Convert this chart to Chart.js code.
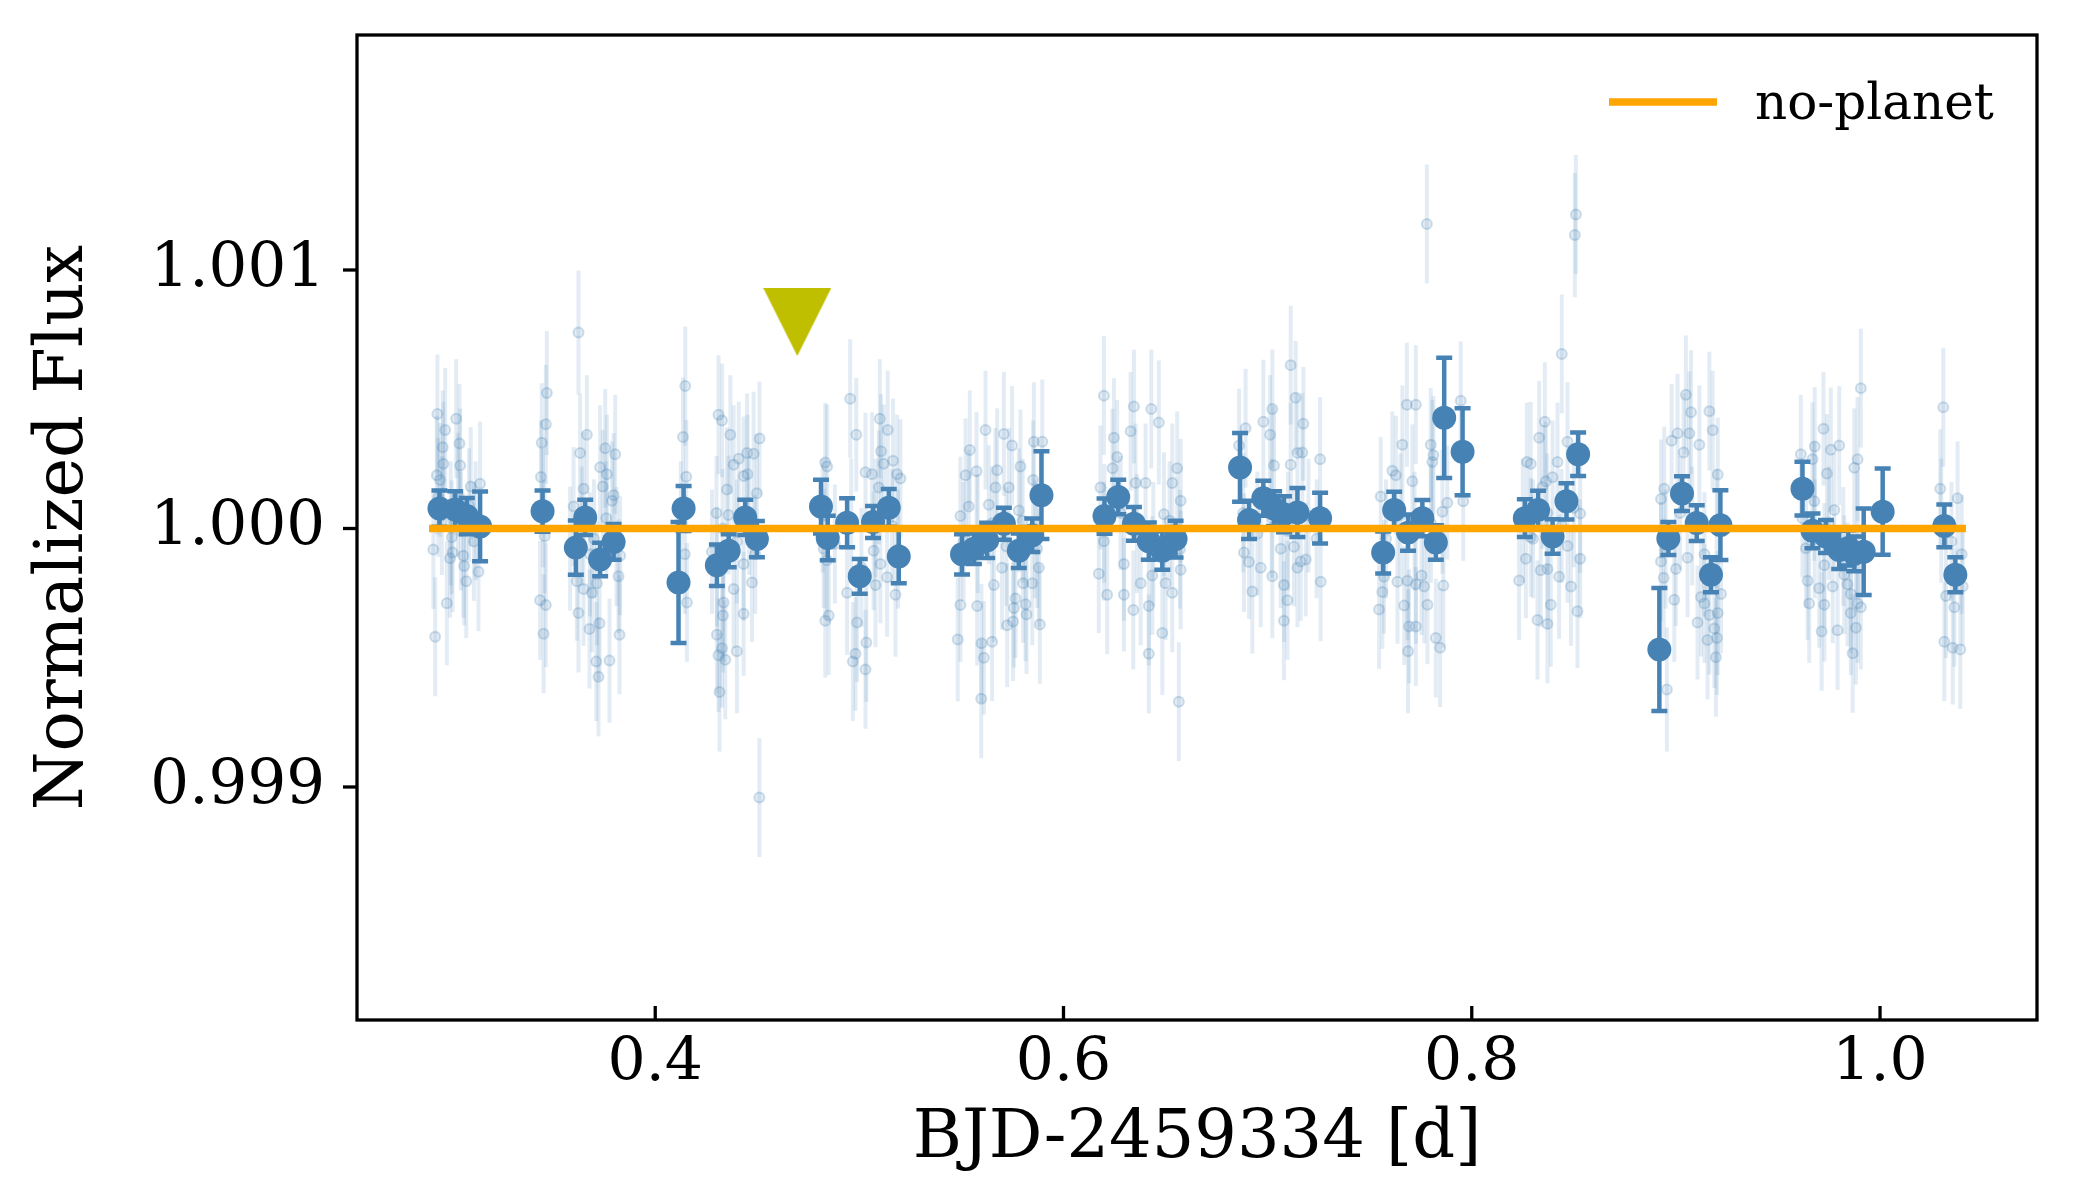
<!DOCTYPE html>
<html><head><meta charset="utf-8">
<script src="https://cdn.jsdelivr.net/npm/chart.js@4.4.1/dist/chart.umd.min.js"></script>
<style>html,body{margin:0;padding:0;background:#fff;}#wrap{width:2100px;height:1200px;}</style>
</head><body><div id="wrap"><canvas id="c" width="2100" height="1200"></canvas></div>
<script>
// ---- axes ----
const xTicks = [0.4, 0.6, 0.8, 1.0];
const xTickLabels = ['0.4', '0.6', '0.8', '1.0'];
const yTicks = [0.999, 1.000, 1.001];
const yTickLabels = ['0.999', '1.000', '1.001'];
const xLabel = 'BJD-2459334 [d]';
const yLabel = 'Normalized Flux';
const legendLabel = 'no-planet';

// ---- binned photometry ----
const binT = [0.2943,0.3020,0.3077,0.3142,0.3448,0.3611,0.3657,0.3730,0.3796,0.4114,0.4139,0.4302,0.4360,0.4441,0.4498,0.4812,0.4845,0.4940,0.5002,0.5067,0.5144,0.5193,0.5503,0.5561,0.5626,0.5708,0.5781,0.5847,0.5892,0.6201,0.6268,0.6345,0.6418,0.6484,0.6549,0.6865,0.6909,0.6979,0.7031,0.7080,0.7146,0.7257,0.7566,0.7620,0.7688,0.7758,0.7824,0.7865,0.7955,0.8260,0.8325,0.8396,0.8464,0.8521,0.8919,0.8963,0.9030,0.9102,0.9172,0.9218,0.9620,0.9669,0.9735,0.9800,0.9845,0.9874,0.9920,1.0013,1.0315,1.0369];
const binF = [1.000077,1.000073,1.000048,1.000008,1.000067,0.999926,1.000043,0.999880,0.999948,0.999791,1.000077,0.999858,0.999914,1.000043,0.999959,1.000085,0.999963,1.000022,0.999815,1.000025,1.000080,0.999892,0.999900,0.999922,0.999954,1.000018,0.999914,0.999974,1.000129,1.000048,1.000122,1.000018,0.999951,0.999914,0.999959,1.000236,1.000033,1.000117,1.000077,1.000055,1.000062,1.000040,0.999907,1.000072,0.999984,1.000040,0.999946,1.000428,1.000297,1.000040,1.000072,0.999969,1.000105,1.000287,0.999532,0.999961,1.000135,1.000021,0.999821,1.000013,1.000154,0.999991,0.999969,0.999917,0.999925,0.999902,0.999910,1.000065,1.000010,0.999821];
const binE = [0.000070,0.000071,0.000070,0.000135,0.000080,0.000105,0.000068,0.000065,0.000069,0.000234,0.000087,0.000080,0.000064,0.000068,0.000070,0.000104,0.000086,0.000095,0.000067,0.000062,0.000073,0.000104,0.000078,0.000059,0.000068,0.000062,0.000067,0.000065,0.000170,0.000068,0.000067,0.000065,0.000072,0.000074,0.000071,0.000133,0.000074,0.000068,0.000067,0.000070,0.000095,0.000098,0.000081,0.000070,0.000070,0.000070,0.000067,0.000233,0.000168,0.000073,0.000074,0.000067,0.000070,0.000084,0.000238,0.000064,0.000067,0.000069,0.000068,0.000135,0.000104,0.000067,0.000064,0.000074,0.000068,0.000067,0.000167,0.000167,0.000083,0.000068];

// ---- unbinned photometry [time, flux, error] ----
const rawObs = [
[0.2933,1.000443,0.00023],[0.2971,1.000381,0.00024],[0.3025,1.000425,0.00023],[0.2959,1.000314,0.00022],[0.3041,1.000329,0.00023],[0.2962,1.000250,0.00024],[0.2930,1.000206,0.00023],[0.3044,1.000244,0.00022],[0.3096,1.000162,0.00023],[0.3142,1.000173,0.00024],[0.2913,0.999919,0.00023],[0.3003,0.999966,0.00022],[0.2995,0.999885,0.00023],[0.3060,0.999895,0.00024],[0.3064,0.999855,0.00023],[0.3134,0.999833,0.00023],[0.3074,0.999796,0.00022],[0.2979,0.999711,0.00024],[0.2922,0.999581,0.00023],[0.3007,0.999907,0.00023],[0.2946,1.000188,0.00022],[0.2955,1.000050,0.00023],[0.2998,1.000020,0.00024],[0.3048,0.999990,0.00023],[0.3088,1.000090,0.00022],[0.3112,0.999950,0.00023],[0.2937,1.000120,0.00023],[0.3033,1.000130,0.00024],[0.3120,1.000030,0.00023],
[0.3469,1.000524,0.00024],[0.3464,1.000403,0.00023],[0.3444,1.000332,0.00023],[0.3440,1.000199,0.00022],[0.3436,0.999722,0.00023],[0.3464,0.999704,0.00024],[0.3453,0.999593,0.00023],[0.3450,1.000080,0.00023],[0.3458,0.999970,0.00022],
[0.3624,1.000758,0.00024],[0.3665,1.000363,0.00023],[0.3632,1.000292,0.00023],[0.3649,1.000154,0.00022],[0.3600,1.000085,0.00023],[0.3730,1.000237,0.00024],[0.3755,1.000310,0.00023],[0.3804,1.000287,0.00023],[0.3743,1.000162,0.00022],[0.3763,1.000210,0.00023],[0.3796,1.000129,0.00024],[0.3788,1.000107,0.00023],[0.3616,0.999796,0.00023],[0.3649,0.999766,0.00022],[0.3690,0.999751,0.00023],[0.3714,0.999788,0.00024],[0.3624,0.999673,0.00023],[0.3678,0.999611,0.00023],[0.3727,0.999633,0.00022],[0.3711,0.999485,0.00023],[0.3776,0.999489,0.00024],[0.3722,0.999426,0.00023],[0.3825,0.999589,0.00023],[0.3820,0.999815,0.00022],[0.3828,0.999895,0.00023],[0.3583,0.999922,0.00024],[0.3640,1.000010,0.00023],[0.3700,0.999960,0.00023],[0.3760,1.000040,0.00022],[0.3810,0.999930,0.00023],[0.3680,0.999900,0.00024],
[0.4147,1.000551,0.00023],[0.4136,1.000354,0.00023],[0.4152,1.000200,0.00022],[0.4155,0.999714,0.00023],[0.4125,1.000020,0.00024],[0.4145,0.999900,0.00023],
[0.4310,1.000440,0.00023],[0.4327,1.000418,0.00022],[0.4368,1.000363,0.00023],[0.4351,1.000151,0.00024],[0.4359,1.000052,0.00023],[0.4384,1.000247,0.00023],[0.4409,1.000270,0.00022],[0.4450,1.000292,0.00023],[0.4482,1.000289,0.00024],[0.4433,1.000203,0.00023],[0.4452,1.000210,0.00023],[0.4511,1.000348,0.00022],[0.4498,1.000136,0.00023],[0.4278,0.999910,0.00024],[0.4302,0.999851,0.00023],[0.4335,0.999714,0.00023],[0.4332,0.999663,0.00022],[0.4384,0.999766,0.00023],[0.4433,0.999670,0.00024],[0.4302,0.999589,0.00023],[0.4327,0.999537,0.00023],[0.4310,0.999510,0.00022],[0.4343,0.999492,0.00023],[0.4400,0.999525,0.00024],[0.4315,0.999367,0.00023],[0.4474,0.999791,0.00023],[0.4510,0.998959,0.00023],[0.4433,0.999863,0.00022],[0.4330,1.000000,0.00023],[0.4400,0.999950,0.00024],[0.4460,1.000050,0.00023],[0.4490,0.999900,0.00023],[0.4300,1.000060,0.00022],
[0.4833,1.000255,0.00023],[0.4842,1.000240,0.00024],[0.4955,1.000502,0.00023],[0.4825,0.999922,0.00023],[0.4833,0.999643,0.00022],[0.4850,0.999663,0.00023],[0.4940,0.999751,0.00024],[0.4968,0.999485,0.00023],[0.4842,0.999877,0.00023],[0.4985,1.000363,0.00022],[0.5030,1.000218,0.00023],[0.5062,1.000210,0.00024],[0.5100,1.000425,0.00023],[0.5139,1.000381,0.00023],[0.5106,1.000299,0.00022],[0.5119,1.000250,0.00023],[0.5165,1.000262,0.00024],[0.5185,1.000210,0.00023],[0.5201,1.000193,0.00023],[0.5095,1.000159,0.00022],[0.5136,0.999811,0.00023],[0.5079,0.999781,0.00024],[0.4989,0.999636,0.00023],[0.5034,0.999559,0.00023],[0.4981,0.999515,0.00022],[0.5030,0.999455,0.00023],[0.5177,0.999744,0.00024],[0.5070,0.999914,0.00023],[0.5103,0.999863,0.00023],[0.4820,1.000050,0.00022],[0.4880,0.999940,0.00023],[0.4960,1.000030,0.00024],[0.5010,0.999850,0.00023],[0.5080,1.000040,0.00023],[0.5160,1.000010,0.00022],[0.5190,0.999920,0.00023],
[0.5618,1.000381,0.00023],[0.5708,1.000366,0.00024],[0.5748,1.000321,0.00023],[0.5541,1.000304,0.00023],[0.5520,1.000206,0.00022],[0.5574,1.000221,0.00023],[0.5675,1.000225,0.00024],[0.5667,1.000159,0.00023],[0.5732,1.000159,0.00023],[0.5789,1.000240,0.00022],[0.5855,1.000336,0.00023],[0.5896,1.000336,0.00024],[0.5851,1.000188,0.00023],[0.5495,1.000048,0.00023],[0.5536,1.000085,0.00022],[0.5634,1.000092,0.00023],[0.5781,1.000070,0.00024],[0.5871,0.999922,0.00023],[0.5879,0.999848,0.00023],[0.5659,0.999781,0.00022],[0.5802,0.999788,0.00023],[0.5847,0.999788,0.00024],[0.5765,0.999729,0.00023],[0.5757,0.999692,0.00023],[0.5814,0.999707,0.00022],[0.5819,0.999667,0.00023],[0.5724,0.999626,0.00024],[0.5753,0.999640,0.00023],[0.5884,0.999629,0.00023],[0.5495,0.999704,0.00022],[0.5577,0.999700,0.00023],[0.5482,0.999571,0.00024],[0.5598,0.999556,0.00023],[0.5650,0.999562,0.00023],[0.5610,0.999500,0.00022],[0.5597,0.999341,0.00023],[0.5699,0.999848,0.00024],[0.5510,0.999950,0.00023],[0.5580,0.999980,0.00023],[0.5650,1.000020,0.00022],[0.5720,0.999930,0.00023],[0.5800,1.000030,0.00024],[0.5860,0.999960,0.00023],
[0.6198,1.000514,0.00023],[0.6345,1.000472,0.00022],[0.6430,1.000462,0.00023],[0.6467,1.000410,0.00024],[0.6329,1.000376,0.00023],[0.6247,1.000351,0.00023],[0.6263,1.000277,0.00022],[0.6240,1.000233,0.00023],[0.6181,1.000159,0.00024],[0.6353,1.000176,0.00023],[0.6402,1.000176,0.00023],[0.6557,1.000233,0.00022],[0.6533,1.000176,0.00023],[0.6574,1.000107,0.00024],[0.6173,0.999825,0.00023],[0.6214,0.999744,0.00023],[0.6296,0.999744,0.00022],[0.6342,0.999685,0.00023],[0.6378,0.999788,0.00024],[0.6418,0.999700,0.00023],[0.6435,0.999818,0.00023],[0.6500,0.999788,0.00022],[0.6533,0.999751,0.00023],[0.6484,0.999596,0.00024],[0.6418,0.999515,0.00023],[0.6565,0.999330,0.00023],[0.6296,0.999863,0.00022],[0.6198,0.999951,0.00023],[0.6492,1.000055,0.00024],[0.6574,0.999840,0.00023],[0.6200,1.000020,0.00023],[0.6280,1.000060,0.00022],[0.6360,0.999980,0.00023],[0.6440,0.999940,0.00024],[0.6520,1.000030,0.00023],[0.6570,0.999920,0.00023],
[0.7113,1.000632,0.00023],[0.7137,1.000506,0.00022],[0.7023,1.000462,0.00023],[0.6979,1.000413,0.00024],[0.7012,1.000363,0.00023],[0.6892,1.000388,0.00023],[0.6860,1.000321,0.00022],[0.7146,1.000292,0.00023],[0.7113,1.000247,0.00024],[0.7031,1.000244,0.00023],[0.6884,0.999907,0.00023],[0.6909,0.999870,0.00022],[0.6966,0.999848,0.00023],[0.7023,0.999815,0.00024],[0.7064,0.999922,0.00023],[0.7129,0.999929,0.00023],[0.7080,0.999781,0.00022],[0.7097,0.999722,0.00023],[0.6925,0.999756,0.00024],[0.7080,0.999643,0.00023],[0.7146,0.999848,0.00023],[0.7175,1.000405,0.00022],[0.7170,1.000294,0.00023],[0.7257,1.000268,0.00024],[0.7162,0.999872,0.00023],[0.7260,0.999794,0.00023],[0.7187,0.999880,0.00022],[0.6880,1.000060,0.00023],[0.6950,0.999980,0.00024],[0.7020,1.000040,0.00023],[0.7100,0.999990,0.00023],[0.7200,1.000050,0.00022],[0.7240,0.999960,0.00023],
[0.7780,1.001178,0.00023],[0.7682,1.000479,0.00024],[0.7726,1.000479,0.00023],[0.7660,1.000324,0.00023],[0.7799,1.000324,0.00022],[0.7812,1.000283,0.00023],[0.7807,1.000257,0.00024],[0.7611,1.000223,0.00023],[0.7628,1.000206,0.00023],[0.7709,1.000183,0.00022],[0.7946,1.000494,0.00023],[0.7856,1.000065,0.00024],[0.7554,1.000124,0.00023],[0.7958,1.000105,0.00023],[0.7562,0.999754,0.00022],[0.7546,0.999687,0.00023],[0.7636,0.999794,0.00024],[0.7685,0.999798,0.00023],[0.7726,0.999784,0.00023],[0.7767,0.999776,0.00022],[0.7754,0.999818,0.00023],[0.7861,0.999779,0.00024],[0.7783,0.999705,0.00023],[0.7669,0.999702,0.00023],[0.7693,0.999621,0.00022],[0.7726,0.999621,0.00023],[0.7688,0.999525,0.00024],[0.7824,0.999576,0.00023],[0.7845,0.999539,0.00023],[0.7570,0.999813,0.00022],[0.7580,0.999960,0.00023],[0.7650,1.000050,0.00024],[0.7720,0.999990,0.00023],[0.7800,1.000020,0.00023],[0.7880,1.000100,0.00022],
[0.8510,1.001215,0.00023],[0.8505,1.001135,0.00024],[0.8441,1.000675,0.00023],[0.8358,1.000413,0.00023],[0.8330,1.000351,0.00022],[0.8270,1.000257,0.00023],[0.8289,1.000250,0.00024],[0.8469,1.000336,0.00023],[0.8420,1.000257,0.00023],[0.8396,1.000198,0.00022],[0.8363,1.000183,0.00023],[0.8347,1.000161,0.00024],[0.8531,1.000058,0.00023],[0.8265,0.999883,0.00023],[0.8338,0.999838,0.00022],[0.8371,0.999843,0.00023],[0.8428,0.999813,0.00024],[0.8531,0.999883,0.00023],[0.8232,0.999799,0.00023],[0.8469,0.999932,0.00022],[0.8486,0.999776,0.00023],[0.8387,0.999705,0.00024],[0.8322,0.999646,0.00023],[0.8371,0.999631,0.00023],[0.8518,0.999680,0.00022],[0.8289,0.999966,0.00023],[0.8250,1.000030,0.00024],[0.8300,0.999960,0.00023],[0.8370,1.000060,0.00023],[0.8440,1.000010,0.00022],[0.8500,1.000080,0.00023],
[0.9049,1.000517,0.00023],[0.9074,1.000450,0.00024],[0.9164,1.000454,0.00023],[0.9180,1.000380,0.00023],[0.8979,1.000339,0.00022],[0.9008,1.000368,0.00023],[0.9066,1.000368,0.00024],[0.9038,1.000294,0.00023],[0.9115,1.000324,0.00023],[0.9205,1.000209,0.00022],[0.8927,1.000114,0.00023],[0.8943,1.000154,0.00024],[0.8927,0.999872,0.00023],[0.8940,0.999809,0.00023],[0.9000,0.999843,0.00022],[0.9057,0.999887,0.00023],[0.8992,0.999724,0.00024],[0.9123,0.999735,0.00023],[0.9140,0.999710,0.00023],[0.9106,0.999636,0.00022],[0.9164,0.999665,0.00023],[0.9205,0.999673,0.00024],[0.9188,0.999613,0.00023],[0.9155,0.999569,0.00023],[0.9201,0.999576,0.00022],[0.9196,0.999502,0.00023],[0.8956,0.999377,0.00024],[0.9221,0.999747,0.00023],[0.8950,0.999920,0.00023],[0.9020,1.000060,0.00022],[0.9080,1.000010,0.00023],[0.9140,0.999900,0.00024],[0.9200,1.000000,0.00023],
[0.9906,1.000543,0.00023],[0.9723,1.000386,0.00022],[0.9680,1.000317,0.00023],[0.9759,1.000305,0.00024],[0.9800,1.000321,0.00023],[0.9612,1.000287,0.00023],[0.9669,1.000268,0.00022],[0.9740,1.000213,0.00023],[0.9890,1.000268,0.00024],[0.9874,1.000235,0.00023],[0.9678,1.000105,0.00023],[0.9776,1.000072,0.00022],[0.9637,0.999924,0.00023],[0.9727,0.999858,0.00024],[0.9645,0.999798,0.00023],[0.9702,0.999769,0.00023],[0.9768,0.999776,0.00022],[0.9825,0.999821,0.00023],[0.9841,0.999784,0.00024],[0.9857,0.999747,0.00023],[0.9653,0.999710,0.00023],[0.9727,0.999705,0.00022],[0.9890,0.999710,0.00023],[0.9857,0.999673,0.00024],[0.9714,0.999602,0.00023],[0.9792,0.999606,0.00023],[0.9882,0.999616,0.00022],[0.9866,0.999517,0.00023],[0.9906,0.999695,0.00024],[0.9620,1.000040,0.00023],[0.9680,0.999960,0.00023],[0.9750,1.000020,0.00022],[0.9820,0.999930,0.00023],[0.9890,0.999980,0.00024],
[1.0310,1.000469,0.00023],[1.0295,1.000154,0.00023],[1.0380,1.000117,0.00022],[1.0405,0.999776,0.00023],[1.0323,0.999739,0.00024],[1.0364,0.999695,0.00023],[1.0315,0.999562,0.00023],[1.0356,0.999539,0.00022],[1.0393,0.999532,0.00023],[1.0300,1.000030,0.00024],[1.0350,0.999950,0.00023],[1.0400,0.999900,0.00023]
];

// ---- model & marker ----
const modelT = [0.2892, 1.0421];
const modelF = [1.0, 1.0];
const markT = [0.4696];
const markF = [1.000799];

// ---- styles ----
const BLUE = '#4682b4';
const FONT = '"DejaVu Serif", "Liberation Serif", serif';

const tri = document.createElement('canvas');
tri.width = 68; tri.height = 68;
(function(){ const g = tri.getContext('2d'); g.fillStyle = '#bfbf00'; g.beginPath(); g.moveTo(0,0); g.lineTo(68,0); g.lineTo(34,68); g.closePath(); g.fill(); })();

const errorBarPlugin = {
  id: 'errorBars',
  beforeDatasetDraw(chart, args) {
    const ds = chart.data.datasets[args.index];
    if (!ds.errors) return;
    const xs = chart.scales.x, ys = chart.scales.y, ctx = chart.ctx;
    ctx.save();
    ctx.beginPath();
    ctx.rect(chart.chartArea.left, chart.chartArea.top, chart.chartArea.right - chart.chartArea.left, chart.chartArea.bottom - chart.chartArea.top);
    ctx.clip();
    ctx.strokeStyle = ds.errColor;
    ctx.lineWidth = ds.errWidth;
    ctx.lineCap = 'butt';
    ds.data.forEach((p, i) => {
      const e = ds.errors[i];
      const px = xs.getPixelForValue(p.x);
      const y1 = ys.getPixelForValue(p.y - e), y2 = ys.getPixelForValue(p.y + e);
      ctx.beginPath(); ctx.moveTo(px, y1); ctx.lineTo(px, y2); ctx.stroke();
      if (ds.capHalf) {
        ctx.beginPath();
        ctx.moveTo(px - ds.capHalf, y1); ctx.lineTo(px + ds.capHalf, y1);
        ctx.moveTo(px - ds.capHalf, y2); ctx.lineTo(px + ds.capHalf, y2);
        ctx.stroke();
      }
    });
    ctx.restore();
  }
};

const framePlugin = {
  id: 'frame',
  afterDraw(chart) {
    const {ctx, chartArea: a} = chart;
    const xs = chart.scales.x, ys = chart.scales.y;
    ctx.save();
    ctx.strokeStyle = '#000';
    ctx.lineWidth = 3.3;
    ctx.strokeRect(a.left, a.top, a.right - a.left, a.bottom - a.top);
    xTicks.forEach(v => { const px = xs.getPixelForValue(v); ctx.beginPath(); ctx.moveTo(px, a.bottom); ctx.lineTo(px, a.bottom - 14); ctx.stroke(); });
    yTicks.forEach(v => { const py = ys.getPixelForValue(v); ctx.beginPath(); ctx.moveTo(a.left, py); ctx.lineTo(a.left - 14, py); ctx.stroke(); });
    // legend (top-right inside axes)
    const lx = a.right - 428, ly = a.top + 67;
    ctx.strokeStyle = '#ffa500'; ctx.lineWidth = 7.5;
    ctx.beginPath(); ctx.moveTo(lx, ly); ctx.lineTo(lx + 108, ly); ctx.stroke();
    ctx.fillStyle = '#000'; ctx.font = '50px ' + FONT; ctx.textBaseline = 'alphabetic'; ctx.textAlign = 'left';
    ctx.fillText(legendLabel, lx + 146, ly + 17);
    ctx.restore();
  }
};

new Chart(document.getElementById('c'), {
  type: 'scatter',
  data: {
    datasets: [
      { label: 'marker', data: markT.map((t,i)=>({x:t, y:markF[i]})), pointStyle: tri, pointRadius: 34, order: 0 },
      { label: legendLabel, type: 'line', data: modelT.map((t,i)=>({x:t, y:modelF[i]})), borderColor: '#ffa500', borderWidth: 7.5, pointRadius: 0, fill: false, order: 1 },
      { label: 'binned', data: binT.map((t,i)=>({x:t, y:binF[i]})), errors: binE, errColor: BLUE, errWidth: 4.5, capHalf: 8,
        pointRadius: 12, pointBackgroundColor: BLUE, pointBorderWidth: 0, backgroundColor: BLUE, borderWidth: 0, order: 2 },
      { label: 'raw', data: rawObs.map(r=>({x:r[0], y:r[1]})), errors: rawObs.map(r=>r[2]), errColor: 'rgba(70,130,180,0.15)', errWidth: 4, capHalf: 0,
        pointRadius: 5, pointBackgroundColor: 'rgba(70,130,180,0.14)', pointBorderColor: 'rgba(70,130,180,0.25)', pointBorderWidth: 2, order: 3 }
    ]
  },
  options: {
    responsive: false, devicePixelRatio: 1, animation: false,
    layout: { padding: { left: 0, right: 63, top: 35, bottom: 0 } },
    plugins: { legend: { display: false }, tooltip: { enabled: false } },
    events: [],
    scales: {
      x: {
        type: 'linear', min: 0.2539, max: 1.0769,
        afterBuildTicks: s => { s.ticks = xTicks.map(v => ({ value: v })); },
        afterFit: s => { s.height = 180; s.paddingLeft = 0; s.paddingRight = 0; },
        ticks: { callback: (v, i) => xTickLabels[i], font: { family: FONT, size: 60 }, color: '#000', padding: 8, maxRotation: 0, autoSkip: false },
        grid: { display: false, drawTicks: false },
        border: { display: false },
        title: { display: true, text: xLabel, font: { family: FONT, size: 67 }, color: '#000', padding: { top: 0, bottom: 20 } }
      },
      y: {
        type: 'linear', min: 0.9980986, max: 1.0019091,
        afterBuildTicks: s => { s.ticks = yTicks.map(v => ({ value: v })); },
        afterFit: s => { s.width = 357; s.paddingTop = 0; s.paddingBottom = 0; },
        ticks: { callback: (v, i) => yTickLabels[i], font: { family: FONT, size: 61 }, color: '#000', padding: 32, autoSkip: false },
        grid: { display: false, drawTicks: false },
        border: { display: false },
        title: { display: true, text: yLabel, font: { family: FONT, size: 67 }, color: '#000', padding: { top: 24, bottom: 0 } }
      }
    }
  },
  plugins: [errorBarPlugin, framePlugin]
});
</script></body></html>
